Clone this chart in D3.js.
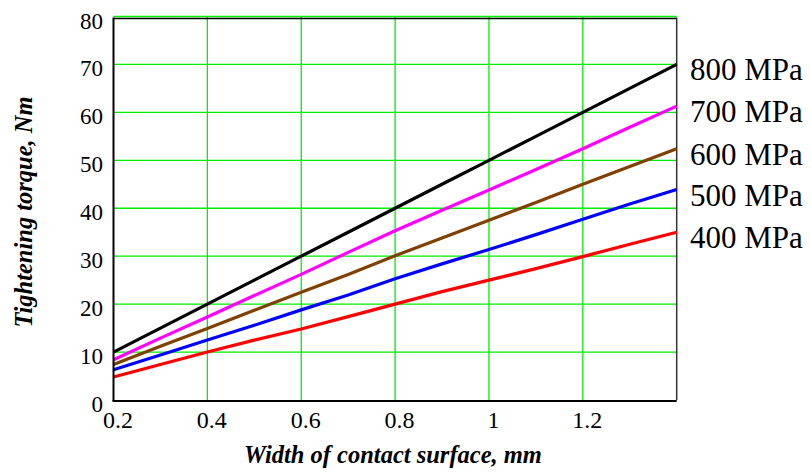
<!DOCTYPE html>
<html><head><meta charset="utf-8">
<script src="https://cdn.jsdelivr.net/npm/d3@7"></script>
<style>
html,body{margin:0;padding:0;background:#fff;}
text{font-family:"Liberation Serif","Times New Roman",serif;fill:#000;}
</style></head>
<body><svg id="c" width="811" height="472"></svg>
<script>
const widths = [0.2,0.3,0.4,0.5,0.6,0.7,0.8,0.9,1.0,1.1,1.2,1.3,1.4];
const torque800 = [10,15,20,25,30,35,40,45,50,55,60,65,70];
const torque700 = [8.4,12.9,17.3,21.8,26.2,30.8,35.3,39.6,43.8,48.1,52.4,56.9,61.3];
const torque600 = [7.4,11.2,14.9,18.7,22.5,26.2,30.1,33.8,37.5,41.2,45.0,48.7,52.4];
const torque500 = [6.3,9.4,12.5,15.6,18.8,21.9,25.3,28.4,31.4,34.5,37.7,40.9,43.9];
const torque400 = [4.8,7.4,10.0,12.5,14.8,17.4,20.0,22.6,25.0,27.4,29.9,32.5,35.0];
const seriesNames = ["800 MPa","700 MPa","600 MPa","500 MPa","400 MPa"];
const seriesColors = ["#000000","#ff00ff","#804000","#0000ff","#ff0000"];
const xTicks = [0.2,0.4,0.6,0.8,1.0,1.2];
const xGrid = [0.4,0.6,0.8,1.0,1.2];
const yTicks = [0,10,20,30,40,50,60,70,80];
const xTitle = "Width of contact surface, mm";
const yTitle = "Tightening torque, Nm";

const seriesValues = [torque800,torque700,torque600,torque500,torque400];
const svg = d3.select("#c");
const L=113.5, R=676.7, T=16.5, B=400;
const x = d3.scaleLinear().domain([0.2,1.4]).range([L,R]);
const y = d3.scaleLinear().domain([0,80]).range([B,T]);

// grid
const g = svg.append("g");
g.selectAll("line.hg").data(yTicks.filter(d=>d>0)).join("line")
  .attr("x1",L).attr("x2",R).attr("y1",d=>y(d)).attr("y2",d=>y(d))
  .attr("stroke","#00ee00").attr("stroke-width",1.3);
g.selectAll("line.vg").data(xGrid).join("line")
  .attr("y1",T).attr("y2",B).attr("x1",d=>x(d)).attr("x2",d=>x(d))
  .attr("stroke","#00ee00").attr("stroke-width",1.3);

// frame
svg.append("line").attr("x1",L).attr("x2",R).attr("y1",T+2).attr("y2",T+2).attr("stroke","#000").attr("stroke-width",1.5);
svg.append("line").attr("x1",R).attr("x2",R).attr("y1",T+1).attr("y2",B).attr("stroke","#333").attr("stroke-width",1.5);

// lines
const line = d3.line().x((d,i)=>x(widths[i])).y(d=>y(d));
svg.selectAll("path.s").data(seriesValues).join("path")
  .attr("d",d=>line(d)).attr("fill","none")
  .attr("stroke",(d,i)=>seriesColors[i]).attr("stroke-width",3.2)
  .attr("stroke-linejoin","round");

// axes lines
svg.append("line").attr("x1",L).attr("x2",L).attr("y1",T+1).attr("y2",B+1).attr("stroke","#000").attr("stroke-width",2);
svg.append("line").attr("x1",L-1).attr("x2",R).attr("y1",B+1).attr("y2",B+1).attr("stroke","#000").attr("stroke-width",2);

// tick labels
svg.selectAll("text.xt").data(xTicks).join("text")
  .attr("x",d=>x(d)+4.5).attr("y",428).attr("text-anchor","middle")
  .style("font-size","24px").text(d=>d3.format("")(d));
svg.selectAll("text.yt").data(yTicks).join("text")
  .attr("x",103).attr("y",d=>y(d)+12).attr("text-anchor","end")
  .style("font-size","23px").text(d=>d);

// series labels
const lastIdx = widths.length-1;
svg.selectAll("text.sl").data(seriesValues).join("text")
  .attr("x",690).attr("y",d=>y(d[lastIdx])+16)
  .style("font-size","31px").text((d,i)=>seriesNames[i]);

// titles
svg.append("text").attr("x",393).attr("y",463).attr("text-anchor","middle")
  .style("font-size","24.5px").style("font-weight","bold").style("font-style","italic").text(xTitle);
svg.append("text").attr("transform","translate(32,212) rotate(-90)").attr("text-anchor","middle")
  .style("font-size","24.5px").style("font-weight","bold").style("font-style","italic").text(yTitle);
</script></body></html>
